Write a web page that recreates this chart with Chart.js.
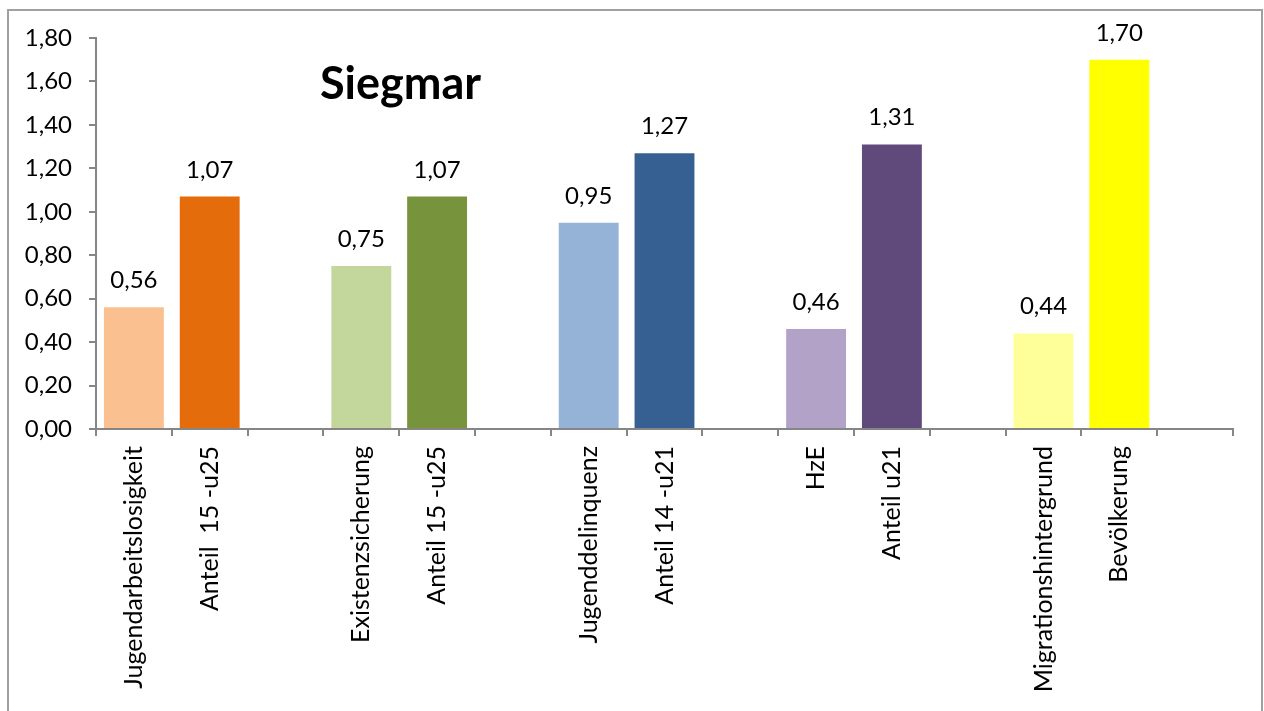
<!DOCTYPE html>
<html>
<head>
<meta charset="utf-8">
<script src="https://cdn.jsdelivr.net/npm/chart.js@4/dist/chart.umd.min.js"></script>
<style>
        html, body { margin: 0; padding: 0; background: #fff; }
        #wrap { width: 1264px; height: 711px; position: relative; }
</style>
</head>
<body>
<div id="wrap"><canvas id="histogram" width="1264" height="711"></canvas></div>
<script>

var ortsteil = "Siegmar";

// every third slot stays empty to leave a gap between the pairs
var labels = [
        "Jugendarbeitslosigkeit", "Anteil  15 -u25", "",
        "Existenzsicherung", "Anteil 15 -u25", "",
        "Jugenddelinquenz", "Anteil 14 -u21", "",
        "HzE", "Anteil u21", "",
        "Migrationshintergrund", "Bevölkerung", ""
];

var werte = [
        0.56, 1.07, null,
        0.75, 1.07, null,
        0.95, 1.27, null,
        0.46, 1.31, null,
        0.44, 1.70, null
];

var farben = [
        "#fac090", "#e46c0a", "#ffffff",
        "#c3d69b", "#77933c", "#ffffff",
        "#95b3d7", "#376092", "#ffffff",
        "#b3a2c7", "#604a7b", "#ffffff",
        "#ffff99", "#ffff00", "#ffffff"
];

var yTicks = [0, 0.2, 0.4, 0.6, 0.8, 1.0, 1.2, 1.4, 1.6, 1.8];

var SCHRIFT = "Lato, 'Liberation Sans', sans-serif";
var GRAU = "#868686";

function komma(v)
{
        return v.toFixed(2).replace(".", ",");
}

// grey frame round the whole chart, open at the bottom edge
var rahmen = {
        id: "rahmen",
        beforeDraw: function(chart) {
                var ctx = chart.ctx;
                ctx.save();
                ctx.fillStyle = "#ffffff";
                ctx.fillRect(0, 0, chart.width, chart.height);
                ctx.strokeStyle = "#a0a0a0";
                ctx.lineWidth = 2;
                ctx.strokeRect(8, 10, chart.width - 10, chart.height + 20);
                ctx.restore();
        }
};

// value above each bar plus the district name inside the plot
var beschriftung = {
        id: "beschriftung",
        afterDatasetsDraw: function(chart) {
                var ctx = chart.ctx;
                var meta = chart.getDatasetMeta(0);
                ctx.save();
                ctx.fillStyle = "#000000";
                ctx.font = "24px " + SCHRIFT;
                ctx.textAlign = "center";
                ctx.textBaseline = "alphabetic";
                for (var i = 0; i < meta.data.length; i++) {
                        var v = werte[i];
                        if (v === null) continue;
                        var bar = meta.data[i];
                        ctx.fillText(komma(v), bar.x, bar.y - 19);
                }

                var area = chart.chartArea;
                ctx.font = "bold 45px " + SCHRIFT;
                ctx.textAlign = "left";
                ctx.fillText(ortsteil, area.left + 224, area.top + 61);
                ctx.restore();
        }
};

var MyChart = new Chart(document.getElementById("histogram"), {
        type: "bar",
        data: {
                labels: labels,
                datasets: [{
                        data: werte,
                        backgroundColor: farben,
                        borderWidth: 0,
                        barPercentage: 0.79,
                        categoryPercentage: 1.0
                }]
        },
        options: {
                responsive: false,
                animation: false,
                events: [],
                layout: {
                        padding: { left: 0, right: 31, top: 38, bottom: 0 }
                },
                plugins: {
                        legend: { display: false },
                        tooltip: { enabled: false },
                        title: { display: false }
                },
                scales: {
                        x: {
                                grid: {
                                        offset: true,
                                        drawOnChartArea: false,
                                        tickLength: 7,
                                        color: GRAU,
                                        lineWidth: 2
                                },
                                border: { color: GRAU, width: 2 },
                                ticks: {
                                        autoSkip: false,
                                        minRotation: 90,
                                        maxRotation: 90,
                                        padding: 10,
                                        color: "#000000",
                                        font: { family: SCHRIFT, size: 25 }
                                },
                                afterFit: function(scale) {
                                        scale.height = 282;
                                }
                        },
                        y: {
                                min: 0,
                                max: 1.8,
                                afterBuildTicks: function(scale) {
                                        scale.ticks = yTicks.map(function(v) { return { value: v }; });
                                },
                                grid: {
                                        drawOnChartArea: false,
                                        tickLength: 7,
                                        color: GRAU,
                                        lineWidth: 2
                                },
                                border: { color: GRAU, width: 2 },
                                ticks: {
                                        padding: 17,
                                        color: "#000000",
                                        font: { family: SCHRIFT, size: 24 },
                                        callback: function(v) { return komma(v); }
                                },
                                afterFit: function(scale) {
                                        scale.width = 96;
                                }
                        }
                }
        },
        plugins: [rahmen, beschriftung]
});

</script>
</body>
</html>
